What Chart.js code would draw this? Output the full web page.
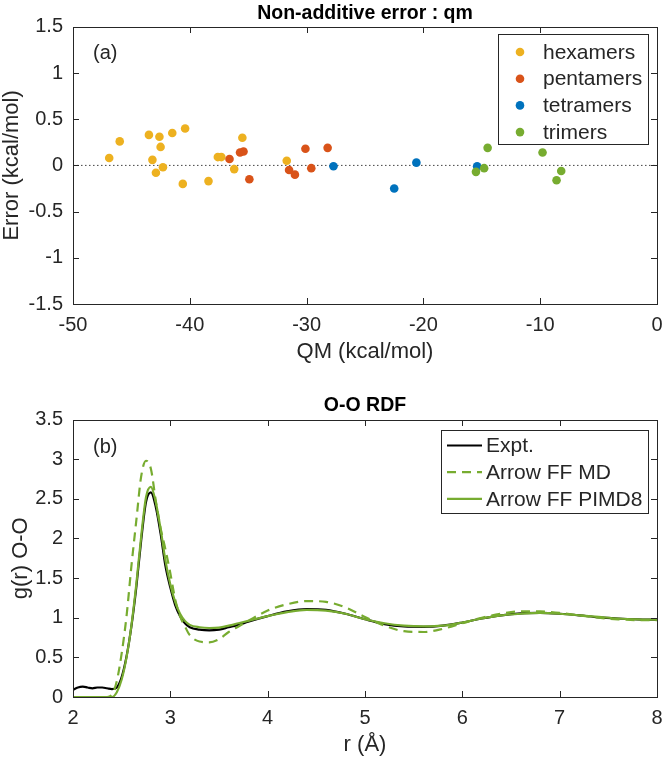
<!DOCTYPE html>
<html><head><meta charset="utf-8">
<script src="https://cdn.jsdelivr.net/npm/chart.js@4.4.1/dist/chart.umd.min.js"></script>
<style>
html,body{margin:0;padding:0;background:#fff;}
#wrap1{position:absolute;left:0;top:0;width:663px;height:372px;}
#wrap2{position:absolute;left:0;top:372px;width:663px;height:387px;}
canvas{display:block;}
</style></head><body>
<div id="wrap1"><canvas id="c1"></canvas></div>
<div id="wrap2"><canvas id="c2"></canvas></div>
<script>
// ---------- Panel (a) data ----------
const hexQM   = [-46.9, -46.0, -43.5, -42.6, -41.5, -40.4, -42.5, -43.2, -42.9, -42.3, -40.6, -38.4, -37.6, -37.3, -36.2, -35.5, -31.7];
const hexErr  = [0.08, 0.26, 0.33, 0.31, 0.35, 0.40, 0.20, 0.06, -0.08, -0.02, -0.20, -0.17, 0.09, 0.09, -0.04, 0.30, 0.05];
const pentQM  = [-36.6, -35.7, -35.4, -34.9, -31.5, -31.0, -30.1, -29.6, -28.2];
const pentErr = [0.07, 0.14, 0.15, -0.15, -0.05, -0.10, 0.18, -0.03, 0.19];
const tetQM   = [-27.7, -22.5, -20.6, -15.4];
const tetErr  = [-0.01, -0.25, 0.03, -0.01];
const triQM   = [-15.5, -14.8, -14.5, -9.8, -8.6, -8.2];
const triErr  = [-0.07, -0.03, 0.19, 0.14, -0.16, -0.06];
const zeroLineX = [-50, 0];
const zeroLineY = [0, 0];
const xTicksA = [-50, -40, -30, -20, -10, 0];
const xTickLabelsA = ['-50', '-40', '-30', '-20', '-10', '0'];
const yTicksA = [-1.5, -1, -0.5, 0, 0.5, 1, 1.5];
const yTickLabelsA = ['-1.5', '-1', '-0.5', '0', '0.5', '1', '1.5'];

// ---------- Panel (b) data ----------
const rVals = [2.0, 2.05, 2.1, 2.15, 2.2, 2.25, 2.3, 2.35, 2.4, 2.45, 2.5, 2.55, 2.6, 2.65, 2.7, 2.75, 2.8, 2.85, 2.9, 2.95,
               3.0, 3.05, 3.1, 3.15, 3.2, 3.3, 3.4, 3.5, 3.6, 3.7, 3.8, 4.0, 4.2, 4.4, 4.6, 4.8, 5.0, 5.2, 5.4, 5.6,
               5.8, 6.0, 6.2, 6.4, 6.6, 6.8, 7.0, 7.2, 7.4, 7.6, 7.8, 8.0];
const gExpt = [0.09, 0.12, 0.13, 0.12, 0.11, 0.12, 0.12, 0.11, 0.10, 0.12, 0.25, 0.51, 0.89, 1.38, 1.97, 2.46, 2.58, 2.40, 2.06, 1.65,
               1.38, 1.16, 1.02, 0.93, 0.88, 0.85, 0.84, 0.85, 0.88, 0.91, 0.95, 1.02, 1.08, 1.11, 1.10, 1.05, 0.98, 0.92, 0.89, 0.885,
               0.90, 0.94, 0.99, 1.03, 1.055, 1.06, 1.05, 1.03, 1.005, 0.99, 0.98, 0.975];
const gMD   = [0, 0, 0, 0, 0, 0, 0, 0, 0.03, 0.20, 0.55, 1.02, 1.65, 2.22, 2.78, 2.98, 2.88, 2.48, 2.13, 1.86,
               1.56, 1.23, 1.02, 0.89, 0.78, 0.70, 0.69, 0.73, 0.82, 0.89, 0.96, 1.09, 1.17, 1.21, 1.20, 1.13, 1.01, 0.90, 0.83, 0.82,
               0.86, 0.93, 1.00, 1.05, 1.08, 1.08, 1.06, 1.03, 1.00, 0.98, 0.97, 0.97];
const gPIMD = [0, 0, 0, 0, 0, 0, 0, 0, 0, 0.06, 0.22, 0.50, 0.90, 1.42, 2.02, 2.52, 2.65, 2.46, 2.12, 1.72,
               1.42, 1.20, 1.05, 0.96, 0.91, 0.88, 0.87, 0.875, 0.90, 0.93, 0.96, 1.02, 1.07, 1.10, 1.09, 1.05, 0.98, 0.93, 0.90, 0.89,
               0.90, 0.94, 0.99, 1.03, 1.05, 1.06, 1.05, 1.03, 1.01, 0.99, 0.98, 0.975];
const xTicksB = [2, 3, 4, 5, 6, 7, 8];
const xTickLabelsB = ['2', '3', '4', '5', '6', '7', '8'];
const yTicksB = [0, 0.5, 1, 1.5, 2, 2.5, 3, 3.5];
const yTickLabelsB = ['0', '0.5', '1', '1.5', '2', '2.5', '3', '3.5'];

// ---------- styling ----------
const FONT = "'Liberation Sans', Arial, Helvetica, sans-serif";
const AX = '#262626';
Chart.defaults.font.family = FONT;
Chart.defaults.color = AX;
Chart.defaults.animation = false;

const pts = (xs, ys) => xs.map((x, i) => ({x: x, y: ys[i]}));
const setTicks = vals => axis => { axis.ticks = vals.map(v => ({value: v})); };
const labelFrom = labels => (v, i) => labels[i];
const fitX = h => a => { a.height = h; a.paddingLeft = 0; a.paddingRight = 0; a.paddingTop = 0; a.paddingBottom = 0; };
const fitY = w => a => { a.width = w; a.paddingLeft = 0; a.paddingRight = 0; a.paddingTop = 0; a.paddingBottom = 0; };

const frame = {
  id: 'frame',
  afterDraw(chart, args, o) {
    const {ctx, chartArea: a, scales: {x, y}} = chart;
    const L = Math.round(a.left), R = Math.round(a.right), T = Math.round(a.top), B = Math.round(a.bottom);
    const tl = 6;
    ctx.save();
    ctx.strokeStyle = AX; ctx.lineWidth = 1;
    ctx.beginPath();
    x.ticks.forEach(t => { const p = Math.round(x.getPixelForValue(t.value)) + 0.5;
      ctx.moveTo(p, B); ctx.lineTo(p, B - tl); ctx.moveTo(p, T); ctx.lineTo(p, T + tl); });
    y.ticks.forEach(t => { const p = Math.round(y.getPixelForValue(t.value)) + 0.5;
      ctx.moveTo(L, p); ctx.lineTo(L + tl, p); ctx.moveTo(R, p); ctx.lineTo(R - tl, p); });
    ctx.stroke();
    ctx.strokeRect(L + 0.5, T + 0.5, R - L, B - T);
    // panel label
    ctx.fillStyle = AX; ctx.font = '20px ' + FONT; ctx.textBaseline = 'middle'; ctx.textAlign = 'left';
    ctx.fillText(o.panel, L + 20, T + o.panelDy);
    // legend box
    const lg = o.legend;
    const bx = R - lg.dr - lg.w, by = T + lg.dt;
    ctx.fillStyle = '#fff';
    ctx.fillRect(bx, by, lg.w, lg.h);
    ctx.strokeStyle = AX; ctx.lineWidth = 1;
    ctx.strokeRect(Math.round(bx) + 0.5, Math.round(by) + 0.5, lg.w, lg.h);
    const items = chart.data.datasets.filter(d => d.inLegend !== false);
    items.forEach((d, i) => {
      const cy = by + lg.first + i * lg.row;
      if (lg.kind === 'marker') {
        ctx.fillStyle = d.backgroundColor;
        ctx.beginPath(); ctx.arc(bx + lg.sx, cy, 4.3, 0, Math.PI * 2); ctx.fill();
      } else {
        ctx.strokeStyle = d.borderColor; ctx.lineWidth = d.borderWidth;
        ctx.setLineDash(d.borderDash || []);
        ctx.beginPath(); ctx.moveTo(bx + lg.sx, cy); ctx.lineTo(bx + lg.ex, cy); ctx.stroke();
        ctx.setLineDash([]);
      }
      ctx.fillStyle = AX; ctx.font = '21px ' + FONT; ctx.textAlign = 'left'; ctx.textBaseline = 'middle';
      ctx.fillText(d.label, bx + lg.tx, cy + 1);
    });
    ctx.restore();
  }
};

// ---------- Chart (a) ----------
new Chart(document.getElementById('c1'), {
  type: 'scatter',
  data: { datasets: [
    {label: 'zero', inLegend: false, data: pts(zeroLineX, zeroLineY), showLine: true, borderColor: '#444', borderWidth: 1,
     borderDash: [1.5, 2.5], pointRadius: 0, order: 5},
    {label: 'hexamers', data: pts(hexQM, hexErr), backgroundColor: '#EDB120', borderColor: '#EDB120', pointRadius: 4.3, borderWidth: 0, order: 4},
    {label: 'pentamers', data: pts(pentQM, pentErr), backgroundColor: '#D95319', borderColor: '#D95319', pointRadius: 4.3, borderWidth: 0, order: 3},
    {label: 'tetramers', data: pts(tetQM, tetErr), backgroundColor: '#0072BD', borderColor: '#0072BD', pointRadius: 4.3, borderWidth: 0, order: 2},
    {label: 'trimers', data: pts(triQM, triErr), backgroundColor: '#77AC30', borderColor: '#77AC30', pointRadius: 4.3, borderWidth: 0, order: 1}
  ]},
  options: {
    responsive: true, maintainAspectRatio: false, events: [],
    layout: {padding: {left: 0, right: 6, top: 0, bottom: 0}},
    plugins: {
      legend: {display: false}, tooltip: {enabled: false},
      title: {display: true, text: 'Non-additive error : qm', fullSize: false, color: '#000',
              font: {size: 19.5, weight: 'bold', lineHeight: 1.2}, padding: {top: 2, bottom: 1.4}},
      frame: {panel: '(a)', panelDy: 26,
              legend: {kind: 'marker', dr: 9, dt: 6.5, w: 150, h: 110, first: 18.5, row: 26.7, sx: 22, tx: 45}}
    },
    scales: {
      x: {type: 'linear', min: -50, max: 0, afterBuildTicks: setTicks(xTicksA),
          afterFit: fitX(68),
          grid: {display: false, drawTicks: false}, border: {display: false},
          ticks: {callback: labelFrom(xTickLabelsA), autoSkip: false, maxRotation: 0, font: {size: 20}, padding: 9},
          title: {display: true, text: 'QM (kcal/mol)', font: {size: 22, lineHeight: 1}, padding: {top: 0, bottom: 9.3}}},
      y: {type: 'linear', min: -1.5, max: 1.5, afterBuildTicks: setTicks(yTicksA),
          afterFit: fitY(73),
          grid: {display: false, drawTicks: false}, border: {display: false},
          ticks: {callback: labelFrom(yTickLabelsA), autoSkip: false, font: {size: 20}, padding: 10},
          title: {display: true, text: 'Error (kcal/mol)', font: {size: 22, lineHeight: 1}, padding: {top: 0.5, bottom: 0}}}
    }
  },
  plugins: [frame]
});

// ---------- Chart (b) ----------
new Chart(document.getElementById('c2'), {
  type: 'line',
  data: { datasets: [
    {label: 'Expt.', data: pts(rVals, gExpt), borderColor: '#000000', borderWidth: 2.2, pointRadius: 0,
     cubicInterpolationMode: 'monotone', order: 3},
    {label: 'Arrow FF MD', data: pts(rVals, gMD), borderColor: '#77AC30', borderWidth: 2.2, borderDash: [9, 6], pointRadius: 0,
     cubicInterpolationMode: 'monotone', order: 2},
    {label: 'Arrow FF PIMD8', data: pts(rVals, gPIMD), borderColor: '#77AC30', borderWidth: 2.2, pointRadius: 0,
     cubicInterpolationMode: 'monotone', order: 1}
  ]},
  options: {
    responsive: true, maintainAspectRatio: false, events: [],
    layout: {padding: {left: 0, right: 6, top: 0, bottom: 0}},
    plugins: {
      legend: {display: false}, tooltip: {enabled: false},
      title: {display: true, text: 'O-O RDF', fullSize: false, color: '#000',
              font: {size: 19.5, weight: 'bold', lineHeight: 1.2}, padding: {top: 21.6, bottom: 2.5}},
      frame: {panel: '(b)', panelDy: 27,
              legend: {kind: 'line', dr: 9, dt: 9.5, w: 207, h: 83, first: 16, row: 26.7, sx: 6, ex: 41, tx: 45}}
    },
    scales: {
      x: {type: 'linear', min: 2, max: 8, afterBuildTicks: setTicks(xTicksB),
          afterFit: fitX(62),
          grid: {display: false, drawTicks: false}, border: {display: false},
          ticks: {callback: labelFrom(xTickLabelsB), autoSkip: false, maxRotation: 0, font: {size: 20}, padding: 9},
          title: {display: true, text: 'r (Å)', font: {size: 22, lineHeight: 1}, padding: {top: 0, bottom: 3}}},
      y: {type: 'linear', min: 0, max: 3.5, afterBuildTicks: setTicks(yTicksB),
          afterFit: fitY(73),
          grid: {display: false, drawTicks: false}, border: {display: false},
          ticks: {callback: labelFrom(yTickLabelsB), autoSkip: false, font: {size: 20}, padding: 10},
          title: {display: true, text: 'g(r) O-O', font: {size: 22, lineHeight: 1}, padding: {top: 10, bottom: 0}}}
    }
  },
  plugins: [frame]
});
</script>
</body></html>
